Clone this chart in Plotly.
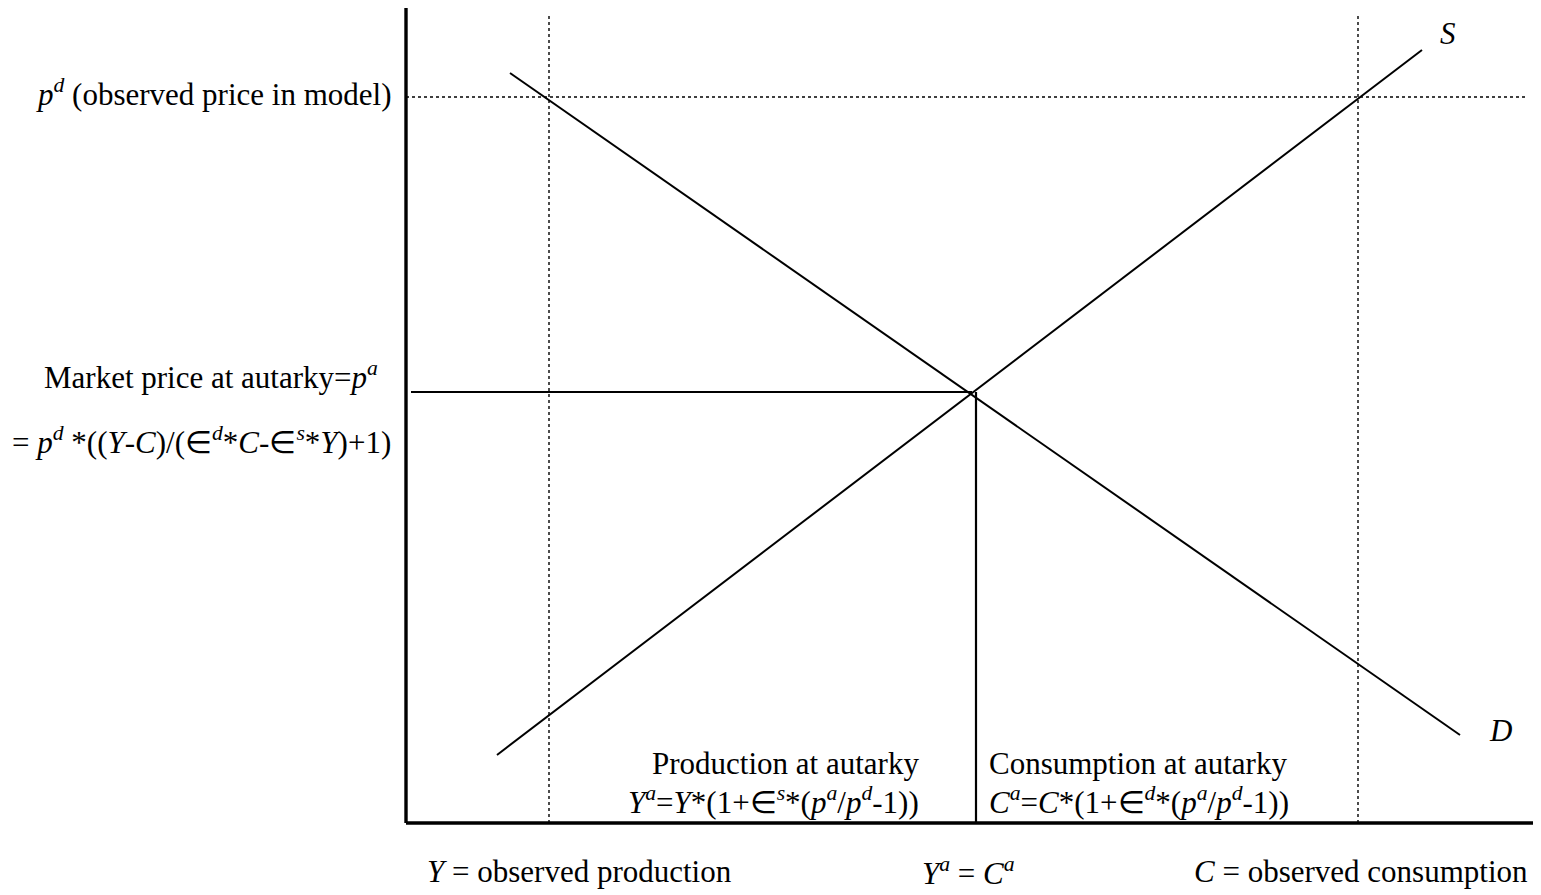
import plotly.graph_objects as go

# --- data (diagram units: quantity on x, price on y) ---
p_d = 726          # observed price in model
p_a = 431          # autarky price
Y_obs = 143        # observed production
C_obs = 952        # observed consumption
Q_a = 570          # Y^a = C^a
axis_x_max = 1127
axis_y_max = 817
dotted_top = 807
dotted_right = 1122

supply_q = [91, 1016]
supply_p = [68, 773]
demand_q = [104, 1054]
demand_p = [750, 88]

FONT = "Liberation Serif, Times New Roman, serif"
BLACK = "#000000"
FS = 31

fig = go.Figure()

def line(xs, ys, width=2.0, dash="solid"):
    fig.add_trace(go.Scatter(x=xs, y=ys, mode="lines", hoverinfo="skip",
                             line=dict(color=BLACK, width=width, dash=dash),
                             showlegend=False))

# axes
line([0, 0], [0, axis_y_max], width=3.4)
line([0, axis_x_max], [0, 0], width=3.4)
# dotted guides
line([0, dotted_right], [p_d, p_d], width=1.4, dash="dot")
line([Y_obs, Y_obs], [0, dotted_top], width=1.4, dash="dot")
line([C_obs, C_obs], [0, dotted_top], width=1.4, dash="dot")
# supply & demand
line(supply_q, supply_p)
line(demand_q, demand_p)
# autarky price and quantity
line([5, Q_a - 4], [p_a, p_a], width=2.0)
line([Q_a, Q_a], [0, p_a], width=2.2)

ann = []
def txt(x, y, s, xanchor="center", size=FS):
    ann.append(dict(x=x, y=y, xref="x", yref="y", text=s, showarrow=False,
                    xanchor=xanchor, yanchor="middle",
                    font=dict(family=FONT, size=size, color=BLACK)))

txt(-13, 731, "<i>p</i><sup><i>d</i></sup> (observed price in model)", "right")
txt(-26, 448, "Market price at autarky=<i>p</i><sup><i>a</i></sup>", "right")
txt(-13, 383, "= <i>p</i><sup><i>d</i></sup> *((<i>Y</i>-<i>C</i>)/(∈<sup><i>d</i></sup>*<i>C</i>-∈<sup><i>s</i></sup>*<i>Y</i>)+1)", "right")
txt(1042, 790, "<i>S</i>", "center")
txt(1094, 93, "<i>D</i>", "center")
txt(515, 60, "Production at autarky", "right")
txt(515, 23, "<i>Y</i><sup><i>a</i></sup>=<i>Y</i>*(1+∈<sup><i>s</i></sup>*(<i>p</i><sup><i>a</i></sup>/<i>p</i><sup><i>d</i></sup>-1))", "right")
txt(581, 60, "Consumption at autarky", "left")
txt(581, 23, "<i>C</i><sup><i>a</i></sup>=<i>C</i>*(1+∈<sup><i>d</i></sup>*(<i>p</i><sup><i>a</i></sup>/<i>p</i><sup><i>d</i></sup>-1))", "left")
txt(19, -48, "<i>Y</i> = observed production", "left")
txt(514, -48, "<i>Y</i><sup><i>a</i></sup> = <i>C</i><sup><i>a</i></sup>", "left")
txt(786, -48, "<i>C</i> = observed consumption", "left")

# page body has an 8px margin, so the ranges are offset to keep the drawing in place
fig.update_layout(
    width=1541, height=895,
    margin=dict(l=0, r=0, t=0, b=0),
    paper_bgcolor="white", plot_bgcolor="white",
    annotations=ann,
    xaxis=dict(range=[-398, 1143], visible=False, fixedrange=True),
    yaxis=dict(range=[-80, 815], visible=False, fixedrange=True),
)

fig.write_html("out.html")
